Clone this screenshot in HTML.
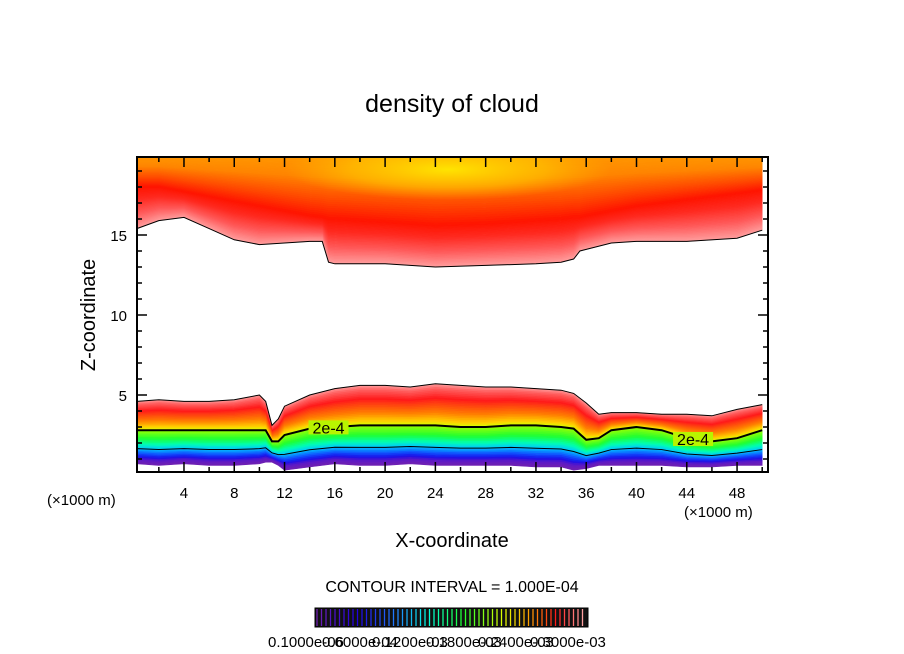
<!DOCTYPE html>
<html><head><meta charset="utf-8"><style>
body{margin:0;background:#fff;}
svg{display:block;font-family:"Liberation Sans",sans-serif;}
</style></head><body>
<svg id="chart" width="904" height="654" viewBox="0 0 904 654">
<defs>
<clipPath id="plotClip"><rect x="137" y="157" width="631" height="315"/></clipPath>
<radialGradient id="yellowGlow"><stop offset="0" stop-color="#ffe400" stop-opacity="1"/><stop offset="0.6" stop-color="#ffd000" stop-opacity="0.55"/><stop offset="1" stop-color="#ffc000" stop-opacity="0"/></radialGradient>
</defs>
<rect width="904" height="654" fill="#fff"/>
<text x="452" y="112" font-size="25" text-anchor="middle">density of cloud</text>
<g id="plot" clip-path="url(#plotClip)"></g>
<g id="axes"></g>
<text x="95" y="315" font-size="20" text-anchor="middle" transform="rotate(-90 95 315)">Z-coordinate</text>
<text x="452" y="547" font-size="20" text-anchor="middle">X-coordinate</text>
<text x="47" y="505" font-size="15">(×1000 m)</text>
<text x="684" y="517" font-size="15">(×1000 m)</text>
<text x="452" y="592" font-size="16" text-anchor="middle">CONTOUR INTERVAL = 1.000E-04</text>
<g id="cbar"></g>
<text x="268" y="647" font-size="15">0.1000e-06</text>
<text x="322" y="647" font-size="15">0.6000e-04</text>
<text x="372" y="647" font-size="15">0.1200e-03</text>
<text x="426" y="647" font-size="15">0.1800e-03</text>
<text x="478" y="647" font-size="15">0.2400e-03</text>
<text x="530" y="647" font-size="15">0.3000e-03</text>
</svg>
<script>
// lower cloud layer data (x in 1000 m, z in 1000 m)
const xsLow = [0.25,2,4,6,8,10,10.5,11,11.5,12,14,16,18,20,22,24,26,28,30,32,34,35,36,37,38,40,42,44,46,48,50];
const lowTop = [4.6,4.7,4.6,4.6,4.7,5.0,4.6,3.1,3.5,4.3,5.0,5.4,5.6,5.6,5.5,5.7,5.6,5.5,5.5,5.4,5.3,5.1,4.5,3.8,3.9,3.9,3.8,3.8,3.7,4.1,4.4];
const lowMid = [2.8,2.8,2.8,2.8,2.8,2.8,2.8,2.1,2.1,2.5,2.9,3.0,3.1,3.1,3.1,3.1,3.0,3.0,3.1,3.1,3.0,2.9,2.2,2.3,2.8,3.0,2.8,2.3,2.1,2.3,2.8];
const lowBot = [0.7,0.6,0.7,0.6,0.6,0.7,0.8,0.8,0.6,0.3,0.5,0.7,0.6,0.6,0.7,0.6,0.6,0.6,0.6,0.5,0.5,0.3,0.4,0.6,0.6,0.6,0.6,0.5,0.5,0.6,0.6];
// upper cloud layer data
const xsUp = [0.25,2,4,6,8,10,12,14,15,15.5,16,20,24,28,32,34,35,35.5,36,38,40,44,48,50];
const upBot = [15.4,15.9,16.1,15.4,14.7,14.4,14.5,14.6,14.6,13.3,13.2,13.2,13.0,13.1,13.2,13.3,13.5,14.0,14.1,14.5,14.6,14.6,14.8,15.3];
const upCore = [18.0,18.0,17.7,17.4,17.1,16.8,16.5,16.2,16.1,16.0,16.0,15.8,15.6,15.7,15.9,16.0,16.1,16.1,16.2,16.5,16.8,17.2,17.6,17.8];
const xTicks = [4,8,12,16,20,24,28,32,36,40,44,48];
const yTicks = [5,10,15];
const contourLabels = ["2e-4","2e-4"];
const contourLabelX = [15.5,44.5];

const NS="http://www.w3.org/2000/svg";
const px = x => 133.7 + x*12.57;
const py = z => 475 - 16*z;
const ZTOP = 19.95;
function mk(tag, attrs, parent){const e=document.createElementNS(NS,tag);for(const k in attrs)e.setAttribute(k,attrs[k]);parent.appendChild(e);return e;}
function hex(c){return [parseInt(c.slice(1,3),16),parseInt(c.slice(3,5),16),parseInt(c.slice(5,7),16)];}
function colAt(stops,f){for(let i=0;i<stops.length-1;i++){if(f<=stops[i+1][0]){const t=(f-stops[i][0])/(stops[i+1][0]-stops[i][0]);const a=hex(stops[i][1]),b=hex(stops[i+1][1]);return 'rgb('+a.map((v,k)=>Math.round(v+(b[k]-v)*t)).join(',')+')';}}return stops[stops.length-1][1];}
const plot=document.getElementById('plot');
function band(xs,A,B,stops,N,name){
  for(let i=0;i<N;i++){
    const f0=i/N,f1=(i+1)/N;
    const top=xs.map((x,k)=>[px(x),py(A[k]+(B[k]-A[k])*f0)]);
    const bot=xs.map((x,k)=>[px(x),py(A[k]+(B[k]-A[k])*f1)]).reverse();
    const c=colAt(stops,(f0+f1)/2);
    const p=mk('polygon',{points:top.concat(bot).map(q=>q.join(',')).join(' '),fill:c,stroke:c,'stroke-width':0.6},plot);
    
    
  }
}
function line(xs,Z,w,name){
  const p=mk('polyline',{points:xs.map((x,k)=>px(x)+','+py(Z[k])).join(' '),fill:'none',stroke:'#000','stroke-width':w},plot);
  
  
}
const upTopArr = xsUp.map(()=>ZTOP);
band(xsUp,upTopArr,upCore,[[0,'#ff9800'],[0.35,'#ff8400'],[0.7,'#ff4a00'],[1,'#ff1400']],30,'upper-cloud-top-band');
const g=mk('ellipse',{cx:px(25),cy:py(19.1),rx:12.57*13,ry:16*1.9,fill:'url(#yellowGlow)'},plot);


band(xsUp,upCore,upBot,[[0,'#ff1400'],[0.3,'#ff2a20'],[0.65,'#ff5a5a'],[1,'#ff9c9c']],30,'upper-cloud-bottom-band');
band(xsLow,lowTop,lowMid,[[0,'#ffa0a0'],[0.12,'#ff6060'],[0.35,'#ff1a1a'],[0.7,'#ff8000'],[0.9,'#ffd000'],[1,'#d8ff00']],24,'lower-cloud-upper-band');
band(xsLow,lowMid,lowBot,[[0,'#a0ff00'],[0.25,'#20ff30'],[0.42,'#00ffb0'],[0.55,'#00c8ff'],[0.7,'#1050ff'],[0.8,'#1a10e8'],[0.88,'#5a18c8'],[1,'#7020b0']],24,'lower-cloud-lower-band');
line(xsUp,upBot,1,'upper-cloud-edge');
line(xsLow,lowTop,1,'lower-cloud-top-edge');
line(xsLow,lowMid,2,'contour-2e-4');
const lowInner = lowMid.map((m,k)=>m+(lowBot[k]-m)*0.55);
line(xsLow,lowInner,1,'contour-1e-4');
contourLabels.forEach((lab,i)=>{
  const x=contourLabelX[i];let k=0;while(k<xsLow.length-1&&xsLow[k+1]<x)k++;
  const t=(x-xsLow[k])/(xsLow[k+1]-xsLow[k]);const z=lowMid[k]+(lowMid[k+1]-lowMid[k])*t;
  const bg=mk('rect',{x:px(x)-20,y:py(z)-7,width:40,height:14,fill:'#b8f400'},plot);
  
  
  const tx=mk('text',{x:px(x),y:py(z)+6,'font-size':16,'text-anchor':'middle',fill:'#000'},plot);
  tx.textContent=lab;
  
  
});
const ax=document.getElementById('axes');
const fr=mk('rect',{x:137,y:157,width:631,height:315,fill:'none',stroke:'#000','stroke-width':2},ax);


for(let x=2;x<=50;x+=2){
  const major=x%4===0, L=major?10:5;
  mk('line',{x1:px(x),x2:px(x),y1:472,y2:472-L,stroke:'#000','stroke-width':1.5},ax);
  mk('line',{x1:px(x),x2:px(x),y1:157,y2:157+L,stroke:'#000','stroke-width':1.5},ax);
}
xTicks.forEach(x=>{const t=mk('text',{x:px(x),y:498,'font-size':15,'text-anchor':'middle'},ax);t.textContent=x;
  
  });
for(let z=1;z<=19;z++){
  const L=z%5===0?10:5;
  mk('line',{x1:137,x2:137+L,y1:py(z),y2:py(z),stroke:'#000','stroke-width':1.5},ax);
  mk('line',{x1:768,x2:768-L,y1:py(z),y2:py(z),stroke:'#000','stroke-width':1.5},ax);
}
yTicks.forEach(z=>{const t=mk('text',{x:127,y:py(z)+6,'font-size':15,'text-anchor':'end'},ax);t.textContent=z;
  
  });
const cb=document.getElementById('cbar');
mk('rect',{x:315,y:608,width:273,height:19,fill:'#111',stroke:'#000'},cb);
const cstops=[[0,'#7020b0'],[0.15,'#2000e0'],[0.3,'#2080ff'],[0.42,'#00ffe0'],[0.55,'#20ff30'],[0.7,'#e0ff00'],[0.8,'#ffa000'],[0.9,'#ff1a1a'],[1,'#ffa0a0']];
for(let i=0;i<60;i++){
  const f=i/59;
  mk('line',{x1:317+i*4.5,x2:317+i*4.5,y1:609,y2:626,stroke:colAt(cstops,f),'stroke-width':1.3},cb);
}
</script>
</body></html>
